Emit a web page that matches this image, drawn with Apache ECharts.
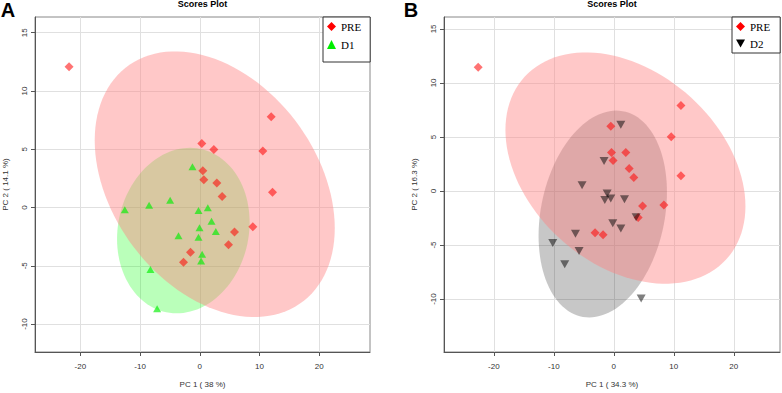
<!DOCTYPE html>
<html>
<head>
<meta charset="utf-8">
<script src="https://cdn.jsdelivr.net/npm/echarts@6/dist/echarts.min.js"></script>
<style>
  html, body { margin: 0; padding: 0; background: #fff; }
  #chart { width: 782px; height: 393px; }
</style>
</head>
<body>
<div id="chart"></div>
<script>
// tick labels shared by both panels
var xTicks = [-20, -10, 0, 10, 20];
var yTicks = [-10, -5, 0, 5, 10, 15];

// panel A : PRE vs D1  (PC1, PC2)
var preA = [[-21.9, 12.08], [11.95, 7.8], [0.34, 5.5], [2.35, 4.98], [10.55, 4.84], [0.5, 3.16],
  [0.67, 2.39], [2.85, 2.1], [12.17, 1.31], [3.74, 0.94], [5.81, -2.11], [8.88, -1.66],
  [4.8, -3.2], [-1.56, -3.85], [-2.73, -4.7]];
var d1A = [[-1.23, 3.5], [-12.56, -0.2], [-8.49, 0.2], [-4.97, 0.62], [-0.22, -0.26], [1.34, -0.03],
  [1.96, -1.17], [-0.05, -1.74], [2.68, -2.05], [-3.57, -2.43], [-0.22, -2.56], [0.39, -4.02],
  [0.22, -4.59], [-8.27, -5.33], [-7.15, -8.69]];

// panel B : PRE vs D2
var preB = [[-22.6, 11.44], [11.19, 7.91], [-0.5, 6.0], [9.57, 5.02], [-0.38, 3.57], [2.0, 3.57],
  [-0.12, 2.83], [2.56, 2.07], [3.34, 1.24], [11.19, 1.42], [4.79, -1.38], [8.35, -1.29],
  [4.06, -2.46], [-3.12, -3.87], [-1.79, -4.06]];
var d2B = [[1.17, 6.12], [-1.62, 2.77], [-5.29, 0.53], [-1.11, -0.24], [-1.5, -0.83], [-0.5, -0.7],
  [1.78, -0.77], [3.72, -2.43], [-0.17, -2.98], [1.17, -3.47], [-6.39, -3.96], [-10.18, -4.82],
  [-5.79, -5.56], [-8.18, -6.79], [4.56, -9.96]];

// 95% ellipses: [centre x, centre y, half width x, half height y, correlation]
var ellPreA = [[2.5, 2.0, 20.1, 11.4, -0.33]];
var ellD1A = [[-2.76, -1.98, 11.1, 7.1, 0.1]];
var ellPreB = [[1.94, 2.12, 20.0, 10.7, -0.33]];
var ellD2B = [[-1.84, -2.13, 10.7, 9.57, 0.21]];

var sans = 'Liberation Sans';

function ellipseRender(fill) {
  return function(params, api) {
    var cx = api.value(0), cy = api.value(1), sx = api.value(2), sy = api.value(3), rho = api.value(4);
    var k = Math.sqrt(1 - rho * rho);
    var pts = [];
    for (var i = 0; i < 120; i++) {
      var t = i / 120 * Math.PI * 2;
      pts.push(api.coord([cx + sx * Math.cos(t), cy + sy * (rho * Math.cos(t) + k * Math.sin(t))]));
    }
    return { type: 'polygon', shape: { points: pts }, style: { fill: fill }, silent: true };
  };
}

function xAxisOf(grid, min, max, name) {
  return {
    gridIndex: grid, type: 'value', min: min, max: max,
    name: name, nameLocation: 'middle', nameGap: 28,
    nameTextStyle: { fontFamily: sans, fontSize: 8, color: '#333' },
    axisLine: { onZero: false, lineStyle: { color: '#555' } },
    axisTick: { customValues: xTicks, length: 4, lineStyle: { color: '#555' } },
    axisLabel: { customValues: xTicks, margin: 10, fontFamily: sans, fontSize: 8, color: '#333' },
    splitLine: { lineStyle: { color: '#e0e0e0' } }
  };
}

function yAxisOf(grid, min, max, name) {
  return {
    gridIndex: grid, type: 'value', min: min, max: max,
    name: name, nameLocation: 'middle', nameGap: 26,
    nameTextStyle: { fontFamily: sans, fontSize: 8, color: '#333' },
    axisLine: { onZero: false, lineStyle: { color: '#555' } },
    axisTick: { customValues: yTicks, length: 4, lineStyle: { color: '#555' } },
    axisLabel: { customValues: yTicks, rotate: 90, margin: 7, fontFamily: sans, fontSize: 8, color: '#333' },
    splitLine: { lineStyle: { color: '#e0e0e0' } }
  };
}

function legendOf(names, left, pad, gap) {
  return {
    data: names, orient: 'vertical', left: left, top: 17,
    padding: pad, itemGap: gap, itemWidth: 9, itemHeight: 9,
    borderColor: '#333', borderWidth: 1, backgroundColor: '#fff',
    selectedMode: false,
    itemStyle: { opacity: 1 },
    textStyle: { fontFamily: 'Liberation Serif', fontSize: 11, color: '#000' }
  };
}

var downTri = 'path://M0,0 L10,0 L5,9 Z';
var pinkFill = 'rgba(255,130,130,0.44)';

var myChart = echarts.init(document.getElementById('chart'), null, { renderer: 'svg' });
var option = {
  animation: false,
  grid: [
    { left: 35, top: 17, width: 335, height: 336, show: true, borderColor: '#888', borderWidth: 1 },
    { left: 444, top: 17, width: 336, height: 336, show: true, borderColor: '#888', borderWidth: 1 }
  ],
  xAxis: [
    xAxisOf(0, -27.6, 28.5, 'PC 1 ( 38 %)'),
    xAxisOf(1, -28.3, 27.7, 'PC 1 ( 34.3 %)')
  ],
  yAxis: [
    yAxisOf(0, -12.4, 16.35, 'PC 2 ( 14.1 %)'),
    yAxisOf(1, -14.9, 16.1, 'PC 2 ( 16.3 %)')
  ],
  legend: [
    legendOf(['PRE', 'D1'], 323, [4, 9, 12, 4], 7),
    legendOf(['PRE', 'D2'], 732, [4, 10, 4, 4], 6)
  ],
  graphic: [
    { type: 'text', x: 202.5, y: 3.5, style: { text: 'Scores Plot', font: 'bold 9px "Liberation Sans"', fill: '#000', align: 'center', verticalAlign: 'middle' } },
    { type: 'text', x: 612, y: 3.5, style: { text: 'Scores Plot', font: 'bold 9px "Liberation Sans"', fill: '#000', align: 'center', verticalAlign: 'middle' } },
    { type: 'text', x: 8, y: 0, style: { text: 'A', font: 'bold 20px "Liberation Sans"', fill: '#000', align: 'center', verticalAlign: 'top' } },
    { type: 'text', x: 411, y: 0, style: { text: 'B', font: 'bold 20px "Liberation Sans"', fill: '#000', align: 'center', verticalAlign: 'top' } }
  ],
  series: [
    { type: 'custom', name: 'D1 ellipse', xAxisIndex: 0, yAxisIndex: 0, z: 1, data: ellD1A, renderItem: ellipseRender('rgba(0,255,0,0.27)') },
    { type: 'custom', name: 'PRE ellipse A', xAxisIndex: 0, yAxisIndex: 0, z: 2, data: ellPreA, renderItem: ellipseRender(pinkFill) },
    { type: 'custom', name: 'D2 ellipse', xAxisIndex: 1, yAxisIndex: 1, z: 1, data: ellD2B, renderItem: ellipseRender('rgba(0,0,0,0.22)') },
    { type: 'custom', name: 'PRE ellipse B', xAxisIndex: 1, yAxisIndex: 1, z: 2, data: ellPreB, renderItem: ellipseRender(pinkFill) },
    { type: 'scatter', name: 'PRE', xAxisIndex: 0, yAxisIndex: 0, z: 3, data: preA, symbol: 'diamond', symbolSize: 9, itemStyle: { color: '#ff0000', opacity: 0.55 } },
    { type: 'scatter', name: 'D1', xAxisIndex: 0, yAxisIndex: 0, z: 3, data: d1A, symbol: 'triangle', symbolSize: [8, 7], itemStyle: { color: '#00ee00', opacity: 0.65 } },
    { type: 'scatter', name: 'PRE', xAxisIndex: 1, yAxisIndex: 1, z: 3, data: preB, symbol: 'diamond', symbolSize: 9, itemStyle: { color: '#ff0000', opacity: 0.55 } },
    { type: 'scatter', name: 'D2', xAxisIndex: 1, yAxisIndex: 1, z: 3, data: d2B, symbol: downTri, symbolSize: [9, 8], itemStyle: { color: '#000000', opacity: 0.5 } }
  ]
};
myChart.setOption(option);
</script>
</body>
</html>
